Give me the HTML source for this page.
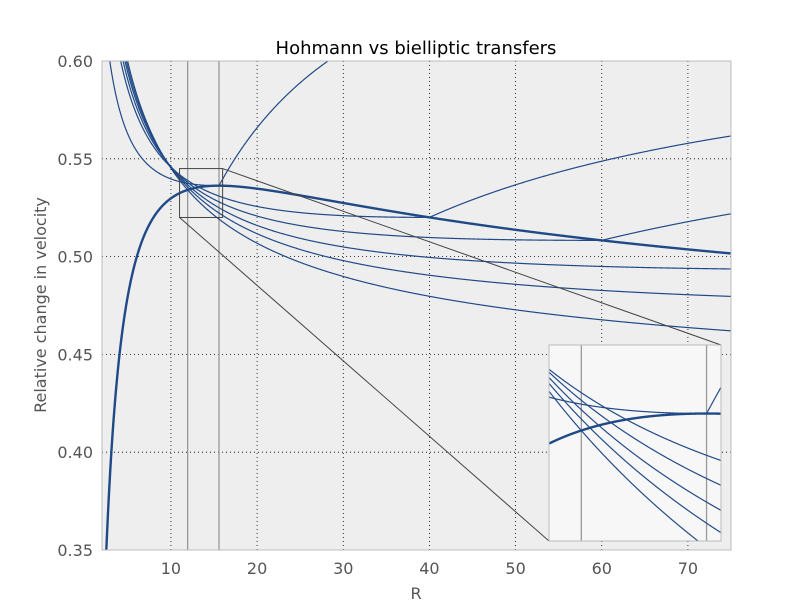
<!DOCTYPE html>
<html><head><meta charset="utf-8"><style>
html,body{margin:0;padding:0;background:#fff;overflow:hidden;width:812px;height:612px;}
svg{display:block;font-family:"DejaVu Sans","Liberation Sans",sans-serif;}
</style></head><body>
<svg id="chart" width="812" height="612" viewBox="0 0 812 612" xmlns="http://www.w3.org/2000/svg">
<defs>
<clipPath id="mainClip"><rect x="102" y="61" width="629" height="489"/></clipPath>
<clipPath id="insetClip"><rect x="549" y="345" width="172" height="196"/></clipPath>
</defs>
<rect x="102" y="61" width="629" height="489" fill="#eeeeee"/>
<g id="grid"></g>
<g id="mainLines" clip-path="url(#mainClip)"></g>
<rect x="102" y="61" width="629" height="489" fill="none" stroke="#bcbcbc" stroke-width="1"/>
<g id="ticks"></g>
<g id="zoom"></g>
<rect x="549" y="345" width="172" height="196" fill="#f7f7f7"/>
<g id="insetLines" clip-path="url(#insetClip)"></g>
<rect x="549" y="345" width="172" height="196" fill="none" stroke="#bcbcbc" stroke-width="1"/>
<text x="416" y="54" text-anchor="middle" font-size="18" fill="#000">Hohmann vs bielliptic transfers</text>
<text x="416" y="599" text-anchor="middle" font-size="16" fill="#555">R</text>
<text transform="translate(46,305) rotate(-90)" text-anchor="middle" font-size="16" fill="#555">Relative change in velocity</text>
</svg>
<script>
const betas = [15.58, 40, 60, 100, 200, Infinity];
const vlines = [11.94, 15.58];
const xTicks = [10, 20, 30, 40, 50, 60, 70];
const yTicks = [0.35, 0.40, 0.45, 0.50, 0.55, 0.60];
const yTickLabels = ["0.35","0.40","0.45","0.50","0.55","0.60"];
const mainDom = {x0:2, x1:75, y0:0.35, y1:0.60};
const insetDom = {x0:11, x1:16, y0:0.52, y1:0.545};

const NS = "http://www.w3.org/2000/svg";
const COLOR = "#204a87";
function mk(tag, attrs, parent){const e=document.createElementNS(NS,tag);for(const k in attrs)e.setAttribute(k,attrs[k]);parent.appendChild(e);return e;}
function scale(d,px0,px1,py0,py1){return {x:v=>px0+(v-d.x0)/(d.x1-d.x0)*(px1-px0), y:v=>py0-(v-d.y0)/(d.y1-d.y0)*(py0-py1), top:py1, bot:py0};}
const M = scale(mainDom,102,731,550,61);
const I = scale(insetDom,549,721,541,345);

function hohmann(R){return Math.abs(Math.sqrt(2*R/(1+R))-1)+Math.abs(Math.sqrt(1/R)-Math.sqrt(2/(R*(1+R))));}
function bielliptic(R,b){
  if(!isFinite(b)) return (Math.SQRT2-1)+(Math.sqrt(2/R)-Math.sqrt(1/R));
  const d1=Math.abs(Math.sqrt(2*b/(1+b))-1);
  const d2=Math.abs(Math.sqrt(2*R/(b*(b+R)))-Math.sqrt(2/(b*(1+b))));
  const d3=Math.abs(Math.sqrt(1/R)-Math.sqrt(2*b/(R*(b+R))));
  return d1+d2+d3;
}
function pathFor(f,S,x0,x1,n){let d="";for(let i=0;i<=n;i++){const r=x0+(x1-x0)*i/n;let py=S.y(f(r));py=Math.max(S.top-2,Math.min(S.bot+2,py));d+=(i?"L":"M")+S.x(r).toFixed(2)+","+py.toFixed(2);}return d;}

const grid=document.getElementById('grid');
xTicks.forEach(t=>{const l=mk('line',{x1:M.x(t),x2:M.x(t),y1:61,y2:550,stroke:"#000","stroke-width":0.8,"stroke-dasharray":"1,3"},grid);

});
yTicks.forEach(t=>{const l=mk('line',{x1:102,x2:731,y1:M.y(t),y2:M.y(t),stroke:"#000","stroke-width":0.8,"stroke-dasharray":"1,3"},grid);

});

const ticks=document.getElementById('ticks');
xTicks.forEach(t=>{const e=mk('text',{x:M.x(t),y:574,"text-anchor":"middle","font-size":16,fill:"#555"},ticks);e.textContent=t;

});
yTicks.forEach((t,i)=>{const e=mk('text',{x:93,y:M.y(t)+6,"text-anchor":"end","font-size":16,fill:"#555"},ticks);e.textContent=yTickLabels[i];

});

function drawSet(g,S,dom){
  vlines.forEach(v=>{const l=mk('line',{x1:S.x(v),x2:S.x(v),y1:S.y(dom.y0),y2:S.y(dom.y1),stroke:"#999","stroke-width":1.3},g);
  
  });
  betas.forEach(b=>{const p=mk('path',{d:pathFor(r=>bielliptic(r,b),S,dom.x0,dom.x1,1500),fill:"none",stroke:COLOR,"stroke-width":1.2},g);
  
  });
  const h=mk('path',{d:pathFor(hohmann,S,dom.x0,dom.x1,1500),fill:"none",stroke:COLOR,"stroke-width":2.4},g);
  
  
}
drawSet(document.getElementById('mainLines'),M,mainDom);
drawSet(document.getElementById('insetLines'),I,insetDom);

const z=document.getElementById('zoom');
const bx0=M.x(insetDom.x0),bx1=M.x(insetDom.x1),by0=M.y(insetDom.y0),by1=M.y(insetDom.y1);
const zr=mk('rect',{x:bx0,y:by1,width:bx1-bx0,height:by0-by1,fill:"none",stroke:"#444","stroke-width":1},z);


const c1=mk('line',{x1:bx1,y1:by1,x2:721,y2:345,stroke:"#444","stroke-width":1},z);


const c2=mk('line',{x1:bx0,y1:by0,x2:549,y2:541,stroke:"#444","stroke-width":1},z);


</script>
</body></html>
